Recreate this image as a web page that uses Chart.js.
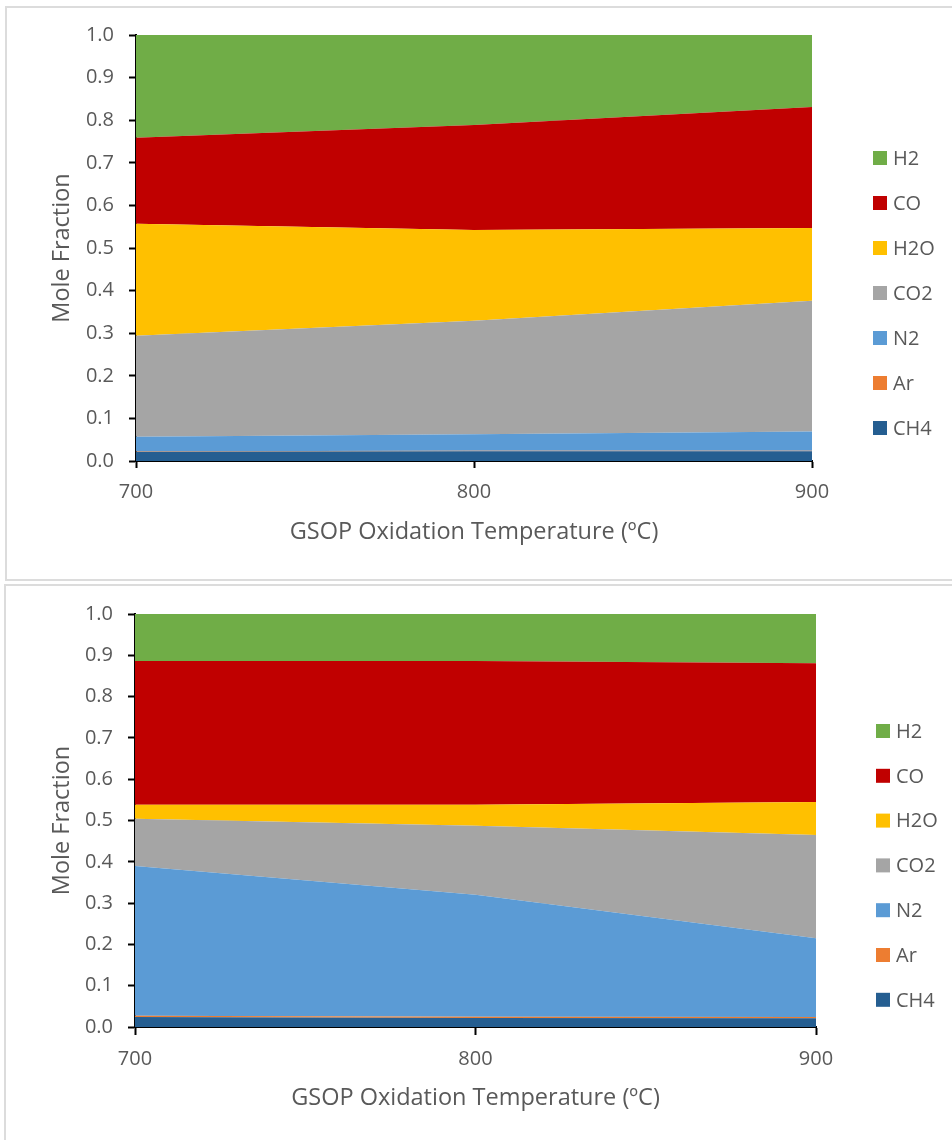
<!DOCTYPE html>
<html>
<head>
<meta charset="utf-8">
<script src="https://cdn.jsdelivr.net/npm/chart.js@4.4.1/dist/chart.umd.min.js"></script>
<style>
  html, body { margin: 0; padding: 0; background: #fff; }
  body { width: 952px; height: 1140px; position: relative; overflow: hidden; }
  .frame { position: absolute; border: 2px solid #dcdcdc; box-sizing: border-box; }
  #f1 { left: 5px; top: 6px; width: 960px; height: 575px; }
  #f2 { left: 4px; top: 584px; width: 960px; height: 600px; }
  canvas { position: absolute; left: 0; }
  #c1 { top: 0; }
  #c2 { top: 582px; }
</style>
</head>
<body>
<div class="frame" id="f1"></div>
<div class="frame" id="f2"></div>
<canvas id="c1" width="952" height="580"></canvas>
<canvas id="c2" width="952" height="558"></canvas>
<script>
// Oxidation temperatures (ºC)
const temps = ['700', '800', '900'];

// Stacking order, bottom to top
const species = ['CH4', 'Ar', 'N2', 'CO2', 'H2O', 'CO', 'H2'];
const speciesColors = ['#255e91', '#ed7d31', '#5b9bd5', '#a5a5a5', '#ffc000', '#c00000', '#70ad47'];

// Upper panel: mole fractions per species
const ch4Top = [0.022, 0.023, 0.023];
const arTop  = [0.001, 0.001, 0.001];
const n2Top  = [0.034, 0.039, 0.045];
const co2Top = [0.237, 0.266, 0.307];
const h2oTop = [0.263, 0.213, 0.171];
const coTop  = [0.202, 0.247, 0.284];
const h2Top  = [0.241, 0.211, 0.169];

// Lower panel: mole fractions per species
const ch4Bot = [0.024, 0.022, 0.021];
const arBot  = [0.003, 0.003, 0.003];
const n2Bot  = [0.363, 0.295, 0.191];
const co2Bot = [0.114, 0.167, 0.250];
const h2oBot = [0.034, 0.051, 0.080];
const coBot  = [0.348, 0.348, 0.336];
const h2Bot  = [0.114, 0.114, 0.119];

const yTicks = [0.0, 0.1, 0.2, 0.3, 0.4, 0.5, 0.6, 0.7, 0.8, 0.9, 1.0];

const FONT = "'Open Sans', 'DejaVu Sans', sans-serif";
const TEXT = '#595959';

// Legend drawn at the right side, top entry = last stacked series
const sideLegend = {
  id: 'sideLegend',
  afterDraw(chart, args, opts) {
    const ctx = chart.ctx;
    const sets = chart.data.datasets.slice().reverse();
    ctx.save();
    ctx.font = '20px ' + FONT;
    ctx.textBaseline = 'middle';
    ctx.textAlign = 'left';
    sets.forEach((ds, i) => {
      const cy = opts.y0 + i * opts.gap;
      ctx.fillStyle = ds.backgroundColor;
      ctx.fillRect(opts.x, cy - 7, 14, 14);
      ctx.fillStyle = TEXT;
      ctx.fillText(ds.label, opts.x + 20, cy + 1);
    });
    ctx.restore();
  }
};

function makeChart(canvasId, series, g) {
  const datasets = species.map((name, i) => ({
    label: name,
    data: series[i],
    backgroundColor: speciesColors[i],
    borderColor: speciesColors[i],
    borderWidth: 0,
    pointRadius: 0,
    pointHoverRadius: 0,
    tension: 0,
    fill: i === 0 ? 'origin' : '-1'
  }));

  return new Chart(document.getElementById(canvasId), {
    type: 'line',
    data: { labels: temps, datasets },
    plugins: [sideLegend],
    options: {
      responsive: false,
      animation: false,
      events: [],
      layout: { padding: { left: 40, right: g.right, top: g.top, bottom: g.bottom } },
      plugins: {
        legend: { display: false },
        tooltip: { enabled: false },
        sideLegend: { x: g.legX, y0: g.legY, gap: g.legGap }
      },
      scales: {
        x: {
          type: 'category',
          offset: false,
          afterFit: s => { s.height = 90; },
          grid: {
            offset: false,
            drawOnChartArea: false,
            drawTicks: true,
            tickLength: g.xTick,
            tickColor: '#000',
            tickWidth: 2
          },
          border: { display: true, color: '#000', width: 2 },
          ticks: { color: TEXT, font: { family: FONT, size: 20 }, padding: 12, maxRotation: 0 },
          title: {
            display: true,
            text: 'GSOP Oxidation Temperature (ºC)',
            color: TEXT,
            font: { family: FONT, size: 23.5 },
            padding: { top: 0, bottom: 5 }
          }
        },
        y: {
          stacked: true,
          min: 0,
          max: 1,
          afterFit: s => { s.width = g.yWidth; },
          afterBuildTicks: s => { s.ticks = yTicks.map(v => ({ value: v })); },
          grid: {
            drawOnChartArea: true,
            color: '#d9d9d9',
            drawTicks: true,
            tickLength: 7,
            tickColor: '#000',
            tickWidth: 2
          },
          border: { display: true, color: '#000', width: 2 },
          ticks: {
            color: TEXT,
            font: { family: FONT, size: 20 },
            padding: 15,
            callback: v => Number(v).toFixed(1)
          },
          title: {
            display: true,
            text: 'Mole Fraction',
            color: TEXT,
            font: { family: FONT, size: 23.5 },
            padding: { top: 8, bottom: 0 }
          }
        }
      }
    }
  });
}

makeChart('c1',
  [ch4Top, arTop, n2Top, co2Top, h2oTop, coTop, h2Top],
  { right: 140, top: 35, bottom: 29, yWidth: 96, xTick: 7, legX: 873, legY: 158, legGap: 45 });

makeChart('c2',
  [ch4Bot, arBot, n2Bot, co2Bot, h2oBot, coBot, h2Bot],
  { right: 136, top: 32, bottom: 23, yWidth: 95, xTick: 8, legX: 876, legY: 731 - 582, legGap: 44.8 });
</script>
</body>
</html>
